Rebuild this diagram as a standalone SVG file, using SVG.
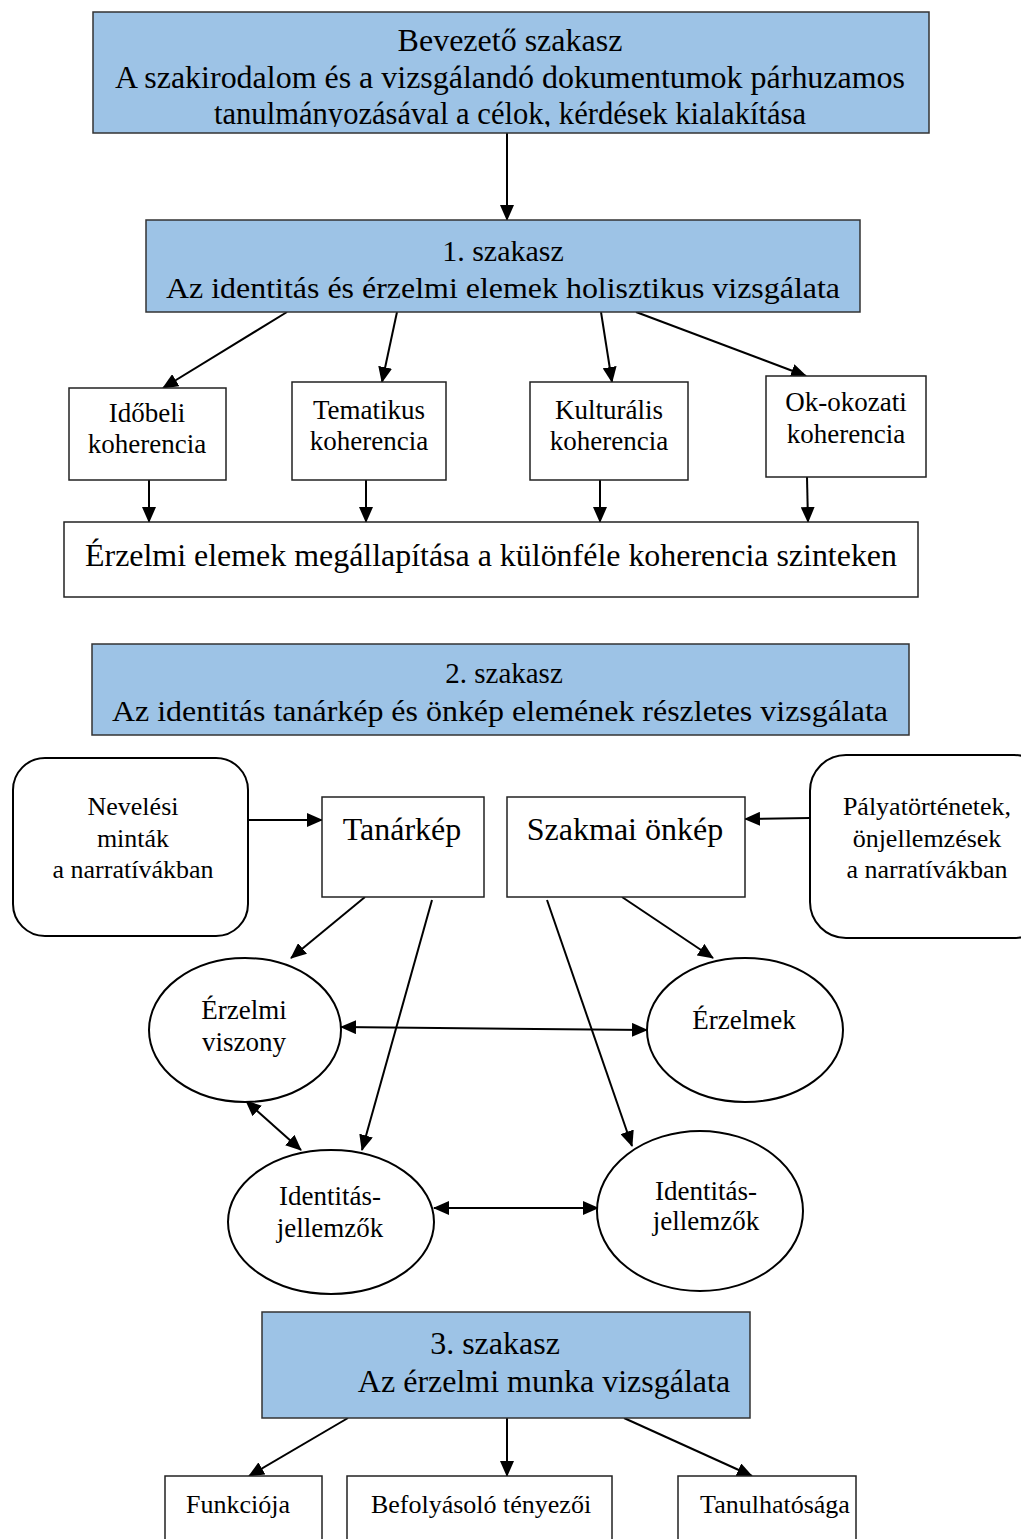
<svg xmlns="http://www.w3.org/2000/svg" width="1021" height="1539" viewBox="0 0 1021 1539">
<style>
.blue{fill:#9DC3E6;stroke:#333;stroke-width:1.5}
.box{fill:#fff;stroke:#222;stroke-width:1.5}
.rbox{fill:#fff;stroke:#000;stroke-width:2}
.ell{fill:#fff;stroke:#000;stroke-width:2}
.t{font-family:"Liberation Serif","Times New Roman",serif;fill:#000;text-anchor:middle}
.f32{font-size:32px}
.f30{font-size:30px}
.f29{font-size:29px}
.f27{font-size:27px}
.f26{font-size:26px}
.con line{stroke:#000;stroke-width:2;marker-end:url(#ah)}
.con line.dbl{marker-start:url(#ah)}
</style>
<defs>
<marker id="ah" markerUnits="userSpaceOnUse" markerWidth="16" markerHeight="14" refX="15" refY="7" orient="auto-start-reverse">
<path d="M0,0 L16,7 L0,14 z" fill="#000"/>
</marker>
<clipPath id="clipTop"><rect x="93" y="12" width="836" height="115"/></clipPath>
</defs>
<rect width="1021" height="1539" fill="#fff"/>

<g id="connectors" class="con">
<line x1="507" y1="133" x2="507" y2="220"/>
<line x1="287" y1="312" x2="163" y2="388"/>
<line x1="397" y1="312" x2="382" y2="382"/>
<line x1="601" y1="312" x2="612" y2="382"/>
<line x1="636" y1="312" x2="806" y2="376"/>
<line x1="149" y1="480" x2="149" y2="522"/>
<line x1="366" y1="480" x2="366" y2="522"/>
<line x1="600" y1="480" x2="600" y2="522"/>
<line x1="807" y1="477" x2="808" y2="522"/>
<line x1="248" y1="820" x2="322" y2="820"/>
<line x1="810" y1="818" x2="745" y2="819"/>
<line x1="365" y1="897" x2="291" y2="958"/>
<line x1="432" y1="900" x2="362" y2="1150"/>
<line x1="547" y1="900" x2="632" y2="1146"/>
<line x1="622" y1="897" x2="713" y2="958"/>
<line class="dbl" x1="341" y1="1027" x2="647" y2="1030"/>
<line class="dbl" x1="246" y1="1101" x2="301" y2="1150"/>
<line class="dbl" x1="434" y1="1208" x2="598" y2="1208"/>
<line x1="348" y1="1418" x2="249" y2="1476"/>
<line x1="507" y1="1418" x2="507" y2="1476"/>
<line x1="624" y1="1418" x2="752" y2="1476"/>
</g>

<g id="intro">
<rect class="blue" x="93" y="12" width="836" height="121"/>
<g clip-path="url(#clipTop)">
<text class="t f32" x="510" y="51">Bevezető szakasz</text>
<text class="t f32" x="510" y="88" textLength="790" lengthAdjust="spacingAndGlyphs">A szakirodalom és a vizsgálandó dokumentumok párhuzamos</text>
<text class="t f32" x="510" y="124" textLength="592" lengthAdjust="spacingAndGlyphs">tanulmányozásával a célok, kérdések kialakítása</text>
</g>
</g>

<g id="stage1">
<rect class="blue" x="146" y="220" width="714" height="92"/>
<text class="t f30" x="503" y="261">1. szakasz</text>
<text class="t f30" x="503" y="298" textLength="674" lengthAdjust="spacingAndGlyphs">Az identitás és érzelmi elemek holisztikus vizsgálata</text>
</g>

<g id="idobeli">
<rect class="box" x="69" y="388" width="157" height="92"/>
<text class="t f27" x="147" y="422">Időbeli</text>
<text class="t f27" x="147" y="453">koherencia</text>
</g>
<g id="tematikus">
<rect class="box" x="292" y="382" width="154" height="98"/>
<text class="t f27" x="369" y="419">Tematikus</text>
<text class="t f27" x="369" y="450">koherencia</text>
</g>
<g id="kulturalis">
<rect class="box" x="530" y="382" width="158" height="98"/>
<text class="t f27" x="609" y="419">Kulturális</text>
<text class="t f27" x="609" y="450">koherencia</text>
</g>
<g id="okokozati">
<rect class="box" x="766" y="376" width="160" height="101"/>
<text class="t f27" x="846" y="411">Ok-okozati</text>
<text class="t f27" x="846" y="443">koherencia</text>
</g>

<g id="erzelmi-elemek">
<rect class="box" x="64" y="522" width="854" height="75"/>
<text class="t f32" x="491" y="566" textLength="812" lengthAdjust="spacingAndGlyphs">Érzelmi elemek megállapítása a különféle koherencia szinteken</text>
</g>

<g id="stage2">
<rect class="blue" x="92" y="644" width="817" height="91"/>
<text class="t f29" x="504" y="683">2. szakasz</text>
<text class="t f30" x="500" y="721" textLength="776" lengthAdjust="spacingAndGlyphs">Az identitás tanárkép és önkép elemének részletes vizsgálata</text>
</g>

<g id="neveles">
<rect class="rbox" x="13" y="758" width="235" height="178" rx="32"/>
<text class="t f26" x="133" y="815">Nevelési</text>
<text class="t f26" x="133" y="847">minták</text>
<text class="t f26" x="133" y="878">a narratívákban</text>
</g>

<g id="tanarkep">
<rect class="box" x="322" y="797" width="162" height="100"/>
<text class="t f32" x="402" y="840">Tanárkép</text>
</g>

<g id="szakmai-onkep">
<rect class="box" x="507" y="797" width="238" height="100"/>
<text class="t f32" x="625" y="840">Szakmai önkép</text>
</g>

<g id="palyatortenetek">
<rect class="rbox" x="810" y="755" width="240" height="183" rx="36"/>
<text class="t f26" x="927" y="815">Pályatörténetek,</text>
<text class="t f26" x="927" y="847">önjellemzések</text>
<text class="t f26" x="927" y="878">a narratívákban</text>
</g>

<g id="erzelmi-viszony">
<ellipse class="ell" cx="245" cy="1030" rx="96" ry="72"/>
<text class="t f27" x="244" y="1019">Érzelmi</text>
<text class="t f27" x="244" y="1051">viszony</text>
</g>

<g id="erzelmek">
<ellipse class="ell" cx="745" cy="1030" rx="98" ry="72"/>
<text class="t f27" x="744" y="1029">Érzelmek</text>
</g>

<g id="identitas-bal">
<ellipse class="ell" cx="331" cy="1222" rx="103" ry="72"/>
<text class="t f27" x="330" y="1205">Identitás-</text>
<text class="t f27" x="330" y="1237">jellemzők</text>
</g>

<g id="identitas-jobb">
<ellipse class="ell" cx="700" cy="1211" rx="103" ry="80"/>
<text class="t f27" x="706" y="1200">Identitás-</text>
<text class="t f27" x="706" y="1230">jellemzők</text>
</g>

<g id="stage3">
<rect class="blue" x="262" y="1312" width="488" height="106"/>
<text class="t f32" x="495" y="1354">3. szakasz</text>
<text class="t f32" x="544" y="1392">Az érzelmi munka vizsgálata</text>
</g>

<g id="funkcioja">
<rect class="box" x="165" y="1476" width="157" height="80"/>
<text class="t f26" x="238" y="1513">Funkciója</text>
</g>
<g id="befolyasolo">
<rect class="box" x="347" y="1476" width="265" height="80"/>
<text class="t f26" x="481" y="1513">Befolyásoló tényezői</text>
</g>
<g id="tanulhatosaga">
<rect class="box" x="678" y="1476" width="178" height="80"/>
<text class="t f26" x="775" y="1513">Tanulhatósága</text>
</g>
</svg>
